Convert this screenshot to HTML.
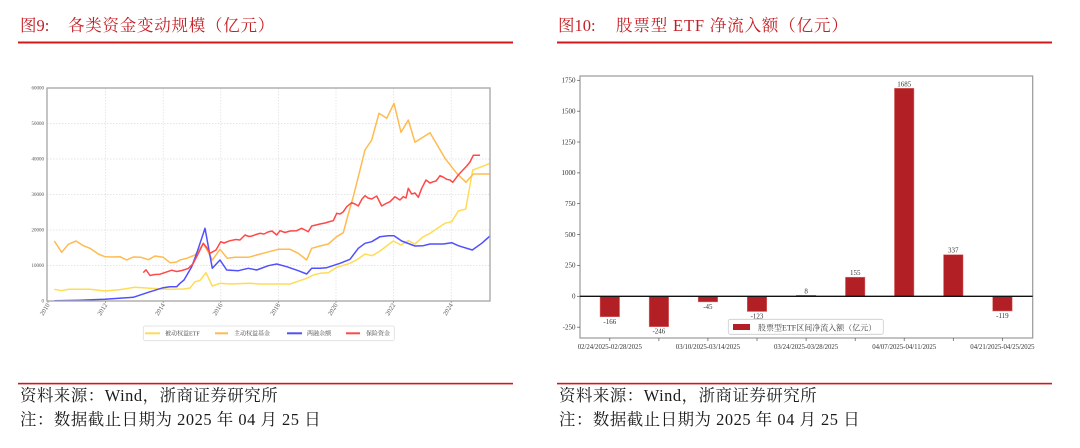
<!DOCTYPE html>
<html><head><meta charset="utf-8"><style>
html,body{margin:0;padding:0;background:#fff;}
svg{display:block;}
.t{font-family:"Liberation Serif","Noto Serif CJK SC",serif;}
</style></head><body>
<svg width="1080" height="448" viewBox="0 0 1080 448" xmlns="http://www.w3.org/2000/svg" class="t">
<rect width="1080" height="448" fill="#fff"/>
<!-- Titles -->
<g fill="#c41e24" font-size="16.5" font-family="Liberation Serif, Noto Serif CJK SC, serif">
<text x="20" y="31">图9:</text>
<text x="68" y="31" letter-spacing="0.75">各类资金变动规模（亿元）</text>
<text x="558" y="31">图10:</text>
<text x="616" y="31" letter-spacing="0.85">股票型 ETF 净流入额（亿元）</text>
</g>
<rect x="18" y="41.5" width="495" height="2" fill="#d01818"/>
<rect x="557" y="41.5" width="495" height="2" fill="#d01818"/>
<rect x="18" y="382.8" width="495" height="1.6" fill="#d01818"/>
<rect x="557" y="382.8" width="495" height="1.6" fill="#d01818"/>
<!-- Footer -->
<g fill="#1a1a1a" font-size="16.4" font-family="Liberation Serif, Noto Serif CJK SC, serif" letter-spacing="0.55">
<text x="20" y="401">资料来源：Wind，浙商证券研究所</text>
<text x="20" y="425">注：数据截止日期为 2025 年 04 月 25 日</text>
<text x="559" y="401">资料来源：Wind，浙商证券研究所</text>
<text x="559" y="425">注：数据截止日期为 2025 年 04 月 25 日</text>
</g>

<!-- LEFT CHART -->
<g stroke="#ddd" stroke-width="0.7" stroke-dasharray="1.5,1.5">
<line x1="47" y1="265.5" x2="490" y2="265.5"/>
<line x1="47" y1="230" x2="490" y2="230"/>
<line x1="47" y1="194.5" x2="490" y2="194.5"/>
<line x1="47" y1="159" x2="490" y2="159"/>
<line x1="47" y1="123.5" x2="490" y2="123.5"/>
<line x1="105.6" y1="88" x2="105.6" y2="301"/>
<line x1="163.2" y1="88" x2="163.2" y2="301"/>
<line x1="220.8" y1="88" x2="220.8" y2="301"/>
<line x1="278.4" y1="88" x2="278.4" y2="301"/>
<line x1="336" y1="88" x2="336" y2="301"/>
<line x1="393.6" y1="88" x2="393.6" y2="301"/>
<line x1="451.2" y1="88" x2="451.2" y2="301"/>
</g>
<g fill="none" stroke-width="1.5" stroke-linejoin="round">
<polyline stroke="#ffdc55" points="54.3,289.3 61.7,290.7 68.3,289.3 90,289.3 105,291 120,289.6 135,287.3 150,288.3 163.3,289 170,289.3 184,289 190,288 195,281.7 200,280.5 206,272.7 212.3,286 220,283.3 230,284 250,283.3 260,284 280,284 290,284 296.7,281.7 306.7,278.3 313.3,275 320,273.3 328.3,272.7 336.7,267.3 350,263.3 358,259 365,254 372.3,255.7 380,251 393.3,241 401,245 408.3,240.7 415,244 423.3,236.7 430,233.3 445,223.3 451.7,221.7 458.3,211 465.7,209 472.7,170 481.7,166.7 490,163.3"/>
<polyline stroke="#ffbb50" points="54.3,241 61.7,252.3 68.3,244.3 76,241 83.3,245.7 90,248.3 98.3,254 105,256.7 112,257 120,256.7 126.7,260 133.3,257 141,257.3 148.3,259.7 155,256 163.3,257.3 170,262.7 176.7,262 180,260 186.7,258.3 195,255 199,250 203.3,243.3 207,250 212.3,260 220,249.3 227.3,258.3 235,257.3 248.3,257.3 256.7,255 266.7,252.3 278.3,249.3 290,249.3 298.3,253.3 306.7,260 311.7,248.3 320,246 328.3,244 336.7,236.7 343.3,232.7 348,215 353.3,196.7 360,170 365,150 371.7,140 379,113.3 386.7,118.3 394,103.3 401,132.3 408.3,120 415,142.3 430,132.7 445,158.3 456.7,173.3 466,182.3 473.3,174 490,174"/>
<polyline stroke="#5050ff" points="54.3,300.8 80,300.3 105,299.3 133.3,297.3 148.3,292.3 163.3,287.7 170,286.7 176.7,286.7 180,283.3 184,280 191.7,266.7 196.7,253.3 205,228.3 212.3,268.3 220,260 226.7,270 238.3,270.7 248.3,268.3 256.7,270 268.3,265.7 276.7,264 286.7,266.7 298.3,270.7 306.7,274 311.7,268.3 320,268.3 326.7,267.7 340,263.3 350,259.3 358.3,248.3 365,243.3 371.7,241.7 380,236.7 388.3,235.7 394,235.7 401.7,241 415,246 423.3,245.7 430,244 443.3,244 451.7,242.7 458.3,245.7 472.3,250 481.7,243.3 490,236"/>
<polyline stroke="#ff4848" points="143.3,272.6 146,269.8 150,275.5 155,274.5 160,274.2 166.7,271.9 171.7,270.2 176.7,271.5 182,270.5 188.3,268.4 193,263.8 196.7,256.7 203.3,243.3 207,248 210,253.3 216,250 220.7,241.7 224,243 230,240.7 236,239.5 240,240 245,235 249,236.5 252,236 256,234.5 260,233.3 264,234 268,232 272,231 276.7,235 280,230.7 285,232.5 290,231 296.7,230.7 301.7,228.3 305,230 308.3,231.7 311.7,226 316,225 320,224 325,223 330,221.5 333.3,220.7 336.7,213.3 340,214 343.3,211.7 346.7,206.7 351.7,202.7 355,204 358.3,206 362,199 365,195.7 368,198 371.7,199 376.7,196 381.7,206 386,203.5 390,201.7 395,196.7 400,200 403.3,196.7 406,198 408.3,188.3 411.7,194 415,193 418.3,197.3 421.7,188.3 426,180 430,183 433.3,181.7 436,181 440,175.7 443,177 446.7,179.3 450,180 452.7,182.3 458.3,175 462,171 466.7,166 470,162 473.3,155.3 480,155.3"/>
</g>
<rect x="47" y="88" width="443" height="213" fill="none" stroke="#aaa" stroke-width="1.4"/>
<g fill="#555" font-size="5" text-anchor="end">
<text x="44" y="302.5">0</text>
<text x="44" y="267">10000</text>
<text x="44" y="231.5">20000</text>
<text x="44" y="196">30000</text>
<text x="44" y="160.5">40000</text>
<text x="44" y="125">50000</text>
<text x="44" y="89.5">60000</text>
</g>
<g stroke="#888" stroke-width="0.7">
<line x1="48" y1="301" x2="48" y2="303"/><line x1="105.6" y1="301" x2="105.6" y2="303"/><line x1="163.2" y1="301" x2="163.2" y2="303"/><line x1="220.8" y1="301" x2="220.8" y2="303"/><line x1="278.4" y1="301" x2="278.4" y2="303"/><line x1="336" y1="301" x2="336" y2="303"/><line x1="393.6" y1="301" x2="393.6" y2="303"/><line x1="451.2" y1="301" x2="451.2" y2="303"/>
</g>
<g fill="#555" font-size="6.5" text-anchor="end">
<text transform="translate(50,305) rotate(-58)">2010</text>
<text transform="translate(107.6,305) rotate(-58)">2012</text>
<text transform="translate(165.2,305) rotate(-58)">2014</text>
<text transform="translate(222.8,305) rotate(-58)">2016</text>
<text transform="translate(280.4,305) rotate(-58)">2018</text>
<text transform="translate(338,305) rotate(-58)">2020</text>
<text transform="translate(395.6,305) rotate(-58)">2022</text>
<text transform="translate(453.2,305) rotate(-58)">2024</text>
</g>
<!-- left legend -->
<rect x="143.3" y="326" width="251" height="14.7" rx="2" fill="#fff" stroke="#ddd" stroke-width="0.8"/>
<g stroke-width="2">
<line x1="145" y1="333.3" x2="160" y2="333.3" stroke="#ffdc55"/>
<line x1="215" y1="333.3" x2="228" y2="333.3" stroke="#ffbb50"/>
<line x1="287" y1="333.3" x2="302" y2="333.3" stroke="#5050ff"/>
<line x1="346" y1="333.3" x2="360" y2="333.3" stroke="#ff4848"/>
</g>
<g fill="#444" font-size="6">
<text x="165" y="335.5">被动权益ETF</text>
<text x="234" y="335.5">主动权益基金</text>
<text x="307" y="335.5">两融余额</text>
<text x="366" y="335.5">保险资金</text>
</g>

<!-- RIGHT CHART -->
<rect x="580" y="76" width="452.7" height="262" fill="none" stroke="#999" stroke-width="1.2"/>
<g fill="#b22025" stroke="#e07070" stroke-width="0.5">
<rect x="600.05" y="296.3" width="19.5" height="20.5"/>
<rect x="649.15" y="296.3" width="19.5" height="30.4"/>
<rect x="698.15" y="296.3" width="19.5" height="5.6"/>
<rect x="747.25" y="296.3" width="19.5" height="15.2"/>
<rect x="796.35" y="295.3" width="19.5" height="1"/>
<rect x="845.45" y="277.2" width="19.5" height="19.1"/>
<rect x="894.45" y="88.3" width="19.5" height="208"/>
<rect x="943.55" y="254.7" width="19.5" height="41.6"/>
<rect x="992.65" y="296.3" width="19.5" height="14.7"/>
</g>
<line x1="580" y1="296.3" x2="1032.7" y2="296.3" stroke="#111" stroke-width="1.3"/>
<g fill="#333" font-size="7" text-anchor="middle">
<text x="609.8" y="323.8">-166</text>
<text x="658.9" y="333.7">-246</text>
<text x="707.9" y="308.9">-45</text>
<text x="757" y="318.5">-123</text>
<text x="806.1" y="293.3">8</text>
<text x="855.2" y="275.2">155</text>
<text x="904.2" y="86.3">1685</text>
<text x="953.3" y="252.7">337</text>
<text x="1002.4" y="318">-119</text>
</g>
<g stroke="#555" stroke-width="0.7">
<line x1="577" y1="80.3" x2="580" y2="80.3"/><line x1="577" y1="111.2" x2="580" y2="111.2"/><line x1="577" y1="142" x2="580" y2="142"/><line x1="577" y1="172.9" x2="580" y2="172.9"/><line x1="577" y1="203.7" x2="580" y2="203.7"/><line x1="577" y1="234.6" x2="580" y2="234.6"/><line x1="577" y1="265.4" x2="580" y2="265.4"/><line x1="577" y1="296.3" x2="580" y2="296.3"/><line x1="577" y1="327.2" x2="580" y2="327.2"/>
<line x1="609.8" y1="338" x2="609.8" y2="341"/><line x1="658.9" y1="338" x2="658.9" y2="341"/><line x1="707.9" y1="338" x2="707.9" y2="341"/><line x1="757" y1="338" x2="757" y2="341"/><line x1="806.1" y1="338" x2="806.1" y2="341"/><line x1="855.2" y1="338" x2="855.2" y2="341"/><line x1="904.2" y1="338" x2="904.2" y2="341"/><line x1="953.3" y1="338" x2="953.3" y2="341"/><line x1="1002.4" y1="338" x2="1002.4" y2="341"/>
</g>
<g fill="#333" font-size="7" text-anchor="end">
<text x="575.5" y="82.6">1750</text>
<text x="575.5" y="113.5">1500</text>
<text x="575.5" y="144.3">1250</text>
<text x="575.5" y="175.2">1000</text>
<text x="575.5" y="206">750</text>
<text x="575.5" y="236.9">500</text>
<text x="575.5" y="267.7">250</text>
<text x="575.5" y="298.6">0</text>
<text x="575.5" y="329.5">-250</text>
</g>
<g fill="#333" font-size="6.8" text-anchor="middle">
<text x="609.8" y="349">02/24/2025-02/28/2025</text>
<text x="707.9" y="349">03/10/2025-03/14/2025</text>
<text x="806.1" y="349">03/24/2025-03/28/2025</text>
<text x="904.2" y="349">04/07/2025-04/11/2025</text>
<text x="1002.4" y="349">04/21/2025-04/25/2025</text>
</g>
<!-- right legend -->
<rect x="728.3" y="319.3" width="155" height="15" rx="2" fill="#fff" stroke="#ccc" stroke-width="0.8"/>
<rect x="733" y="324" width="17" height="6" fill="#b22025"/>
<text x="758" y="330.3" font-size="8" fill="#444">股票型ETF区间净流入额（亿元）</text>
</svg>
</body></html>
